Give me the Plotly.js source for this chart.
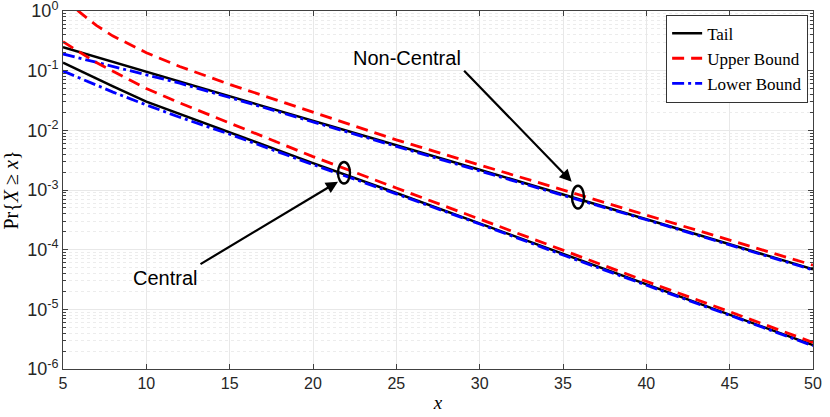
<!DOCTYPE html>
<html>
<head>
<meta charset="utf-8">
<script src="https://cdn.plot.ly/plotly-3.0.1.min.js"></script>
<style>
  body { margin: 0; background: #fff; }
  #chart { width: 830px; height: 417px; }
</style>
</head>
<body>
<div id="chart"></div>
<script>
var xs = [5, 6, 7, 8, 10, 12, 15, 20, 25, 30, 35, 40, 45, 50]

// non-central case
var ncTail  = [0.2466, 0.204, 0.168, 0.1396, 0.0955, 0.0646, 0.0363, 0.0141, 5.62e-3, 2.19e-3, 8.51e-4, 3.24e-4, 1.23e-4, 4.68e-5]
var ncUpper = [1.66, 0.955, 0.575, 0.380, 0.200, 0.1175, 0.0589, 0.0200, 6.92e-3, 2.63e-3, 1.0e-3, 3.8e-4, 1.45e-4, 5.5e-5]
var ncLower = [0.1905, 0.162, 0.138, 0.1175, 0.0871, 0.0617, 0.0355, 0.0138, 5.5e-3, 2.14e-3, 8.3e-4, 3.17e-4, 1.2e-4, 4.57e-5]

// central case
var cTail  = [0.136, 0.100, 0.0733, 0.0543, 0.0302, 0.0188, 9.33e-3, 2.82e-3, 8.91e-4, 2.75e-4, 8.32e-5, 2.63e-5, 8.13e-6, 2.51e-6]
var cUpper = [0.306, 0.204, 0.1365, 0.0977, 0.0501, 0.0288, 0.0132, 3.63e-3, 1.08e-3, 3.24e-4, 9.77e-5, 2.95e-5, 9.12e-6, 2.79e-6]
var cLower = [0.0989, 0.075, 0.0569, 0.0437, 0.0266, 0.0166, 8.61e-3, 2.66e-3, 8.61e-4, 2.69e-4, 8.13e-5, 2.57e-5, 7.94e-6, 2.45e-6]

var seriesNames = ['Tail', 'Upper Bound', 'Lower Bound']

var yTickVals = [1, 0.1, 0.01, 1e-3, 1e-4, 1e-5, 1e-6]
var yTickText = ['10<sup>0</sup>', '10<sup>-1</sup>', '10<sup>-2</sup>', '10<sup>-3</sup>',
                 '10<sup>-4</sup>', '10<sup>-5</sup>', '10<sup>-6</sup>']
var xTickVals = [5, 10, 15, 20, 25, 30, 35, 40, 45, 50]

// minor log ticks (2..9 in each decade)
var yMinor = []
for (var e = -6; e < 0; e++) {
  for (var k = 2; k <= 9; k++) yMinor.push(k * Math.pow(10, e))
}

var tailLine  = {color: '#000000', width: 2.5}
var upperLine = {color: '#ff0000', width: 2.8, dash: '12px,7px'}
var lowerLine = {color: '#0000ff', width: 2.8, dash: '12px,4px,3px,4px'}

var data = [
  {x: xs, y: ncTail,  mode: 'lines', type: 'scatter', name: seriesNames[0], line: tailLine,  legendgroup: 't'},
  {x: xs, y: ncUpper, mode: 'lines', type: 'scatter', name: seriesNames[1], line: upperLine, legendgroup: 'u'},
  {x: xs, y: ncLower, mode: 'lines', type: 'scatter', name: seriesNames[2], line: lowerLine, legendgroup: 'l'},
  {x: xs, y: cTail,   mode: 'lines', type: 'scatter', name: seriesNames[0], line: tailLine,  legendgroup: 't', showlegend: false},
  {x: xs, y: cUpper,  mode: 'lines', type: 'scatter', name: seriesNames[1], line: upperLine, legendgroup: 'u', showlegend: false},
  {x: xs, y: cLower,  mode: 'lines', type: 'scatter', name: seriesNames[2], line: lowerLine, legendgroup: 'l', showlegend: false}
]

var axisColor = '#404040'
var sans = 'Liberation Sans, Arial, sans-serif'
var serif = 'Liberation Serif, DejaVu Serif, serif'

// ellipse markers, centre in (x, log10 y) and half sizes
function ellipse(cx, cLog, rx, rLog) {
  return {type: 'circle', xref: 'x', yref: 'paper',
          x0: cx - rx, x1: cx + rx,
          y0: (cLog - rLog + 6) / 6, y1: (cLog + rLog + 6) / 6,
          line: {color: '#000', width: 2.4}}
}

var layout = {
  width: 830,
  height: 417,
  margin: {l: 63, r: 17, t: 11, b: 48},
  paper_bgcolor: '#ffffff',
  plot_bgcolor: '#ffffff',
  showlegend: true,
  legend: {
    x: 0.9935, y: 0.99, xanchor: 'right', yanchor: 'top',
    bgcolor: '#ffffff', bordercolor: '#333333', borderwidth: 1,
    font: {family: serif, size: 17, color: '#000'},
    itemwidth: 30, tracegroupgap: 0
  },
  xaxis: {
    range: [5, 50],
    tickmode: 'array',
    tickvals: xTickVals,
    ticks: 'inside', ticklen: 5, tickcolor: axisColor,
    showline: true, linecolor: axisColor, linewidth: 1, mirror: 'ticks',
    showgrid: true, gridcolor: '#e8e8e8', gridwidth: 1,
    zeroline: false,
    tickfont: {family: sans, size: 16, color: '#262626'},
    title: {text: '<i>x</i>', font: {family: serif, size: 19, color: '#000'}, standoff: 4}
  },
  yaxis: {
    type: 'log',
    range: [-6, 0],
    tickmode: 'array',
    tickvals: yTickVals,
    ticktext: yTickText,
    ticklabeloverflow: 'allow',
    ticks: 'inside', ticklen: 5, tickcolor: axisColor,
    showline: true, linecolor: axisColor, linewidth: 1, mirror: 'ticks',
    showgrid: true, gridcolor: '#e8e8e8', gridwidth: 1,
    zeroline: false,
    tickfont: {family: sans, size: 18, color: '#262626'},
    minor: {
      tickmode: 'array', tickvals: yMinor,
      ticks: 'inside', ticklen: 3, tickcolor: axisColor,
      showgrid: true, gridcolor: '#ececec', griddash: 'dot', gridwidth: 1
    },
    title: {text: 'Pr{<i>X</i> ≥ <i>x</i>}', font: {family: serif, size: 20, color: '#000'}, standoff: 4}
  },
  annotations: [
    {x: 25.62, y: -0.79, xref: 'x', yref: 'y', text: 'Non-Central', showarrow: false,
     font: {family: sans, size: 20, color: '#000'}},
    {x: 11.09, y: -4.47, xref: 'x', yref: 'y', text: 'Central', showarrow: false,
     font: {family: sans, size: 20, color: '#000'}},
    {x: 35.52, y: -2.86, xref: 'x', yref: 'y', ax: 28.98, ay: -0.977, axref: 'x', ayref: 'y',
     text: '', showarrow: true, arrowhead: 2, arrowsize: 1.1, arrowwidth: 2.2, arrowcolor: '#000'},
    {x: 21.5, y: -2.86, xref: 'x', yref: 'y', ax: 13.16, ay: -4.257, axref: 'x', ayref: 'y',
     text: '', showarrow: true, arrowhead: 2, arrowsize: 1.1, arrowwidth: 2.2, arrowcolor: '#000'}
  ],
  shapes: [
    ellipse(35.9, -3.12, 0.36, 0.19),
    ellipse(21.86, -2.71, 0.36, 0.18)
  ]
}

Plotly.newPlot('chart', data, layout, {displayModeBar: false, staticPlot: true})
</script>
</body>
</html>
